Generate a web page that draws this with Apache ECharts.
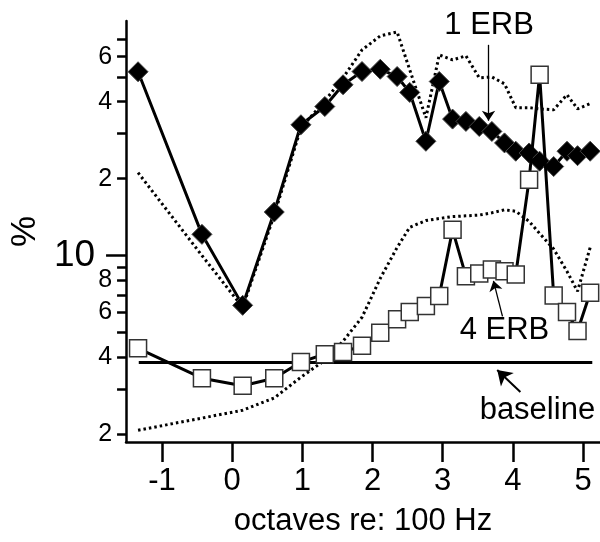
<!DOCTYPE html>
<html>
<head>
<meta charset="utf-8">
<script src="https://cdn.jsdelivr.net/npm/echarts@6/dist/echarts.min.js"></script>
<style>
  html, body { margin: 0; padding: 0; background: #fff; }
  #chart { width: 600px; height: 542px; }
</style>
</head>
<body>
<div id="chart"></div>
<script>
// octave positions shared by every series (octaves re: 100 Hz)
const octaves = [-1.34, -0.43, 0.15, 0.60, 0.98, 1.32, 1.58, 1.85, 2.11, 2.35, 2.53, 2.76,
  2.95, 3.14, 3.33, 3.52, 3.70, 3.88, 4.04, 4.23, 4.38, 4.58, 4.77, 4.92, 5.10];

const erb1 = [52.4, 12.1, 6.38, 14.8, 32.5, 38.3, 46.6, 52.5, 53.6, 50.2, 43.5, 28.0,
  48.0, 34.2, 33.5, 32.0, 30.6, 27.6, 25.6, 25.2, 23.4, 22.3, 25.6, 24.6, 25.6];
const erb4 = [4.33, 3.31, 3.09, 3.31, 3.83, 4.11, 4.19, 4.43, 4.99, 5.63, 6.01, 6.34,
  6.94, 12.6, 8.30, 8.51, 8.82, 8.68, 8.43, 19.8, 51.0, 6.98, 6.01, 5.06, 7.15];
const upperDotted = [21.1, 10.0, 6.27, 14.4, 31.6, 40.3, 49.6, 63.8, 72.4, 75.0, 53.3, 34.6,
  61.0, 58.3, 60.5, 49.6, 50.0, 47.0, 37.9, 37.9, 37.5, 37.2, 42.6, 37.5, 39.3];
const lowerDotted = [2.07, 2.31, 2.48, 2.77, 3.34, 3.89, 4.62, 5.73, 8.14, 10.75, 12.9, 13.7,
  13.96, 14.2, 14.3, 14.4, 14.7, 15.1, 14.9, 13.6, 12.2, 10.6, 8.67, 7.24, 10.75];
const baseline = [[-1.33, 3.81], [5.13, 3.81]];

const xTicks = [-1, 0, 1, 2, 3, 4, 5];
const yTicks = [2, 3, 4, 5, 6, 7, 8, 9, 10, 20, 30, 40, 50, 60, 70];
const yLabels = [2, 4, 6, 8, 10, 20, 40, 60];
const X_MIN = -1.511, X_MAX = 5.24;
const Y_MIN = 1.862, Y_MAX = 82.8;

// annotations: [x0, y0, x1, y1] arrows, [text, x, y] notes
const arrows = [[3.652, 66.8, 3.652, 33.7], [3.851, 5.78, 3.722, 7.96], [4.106, 2.92, 3.776, 3.56]];
const notes = [['1 ERB', 3.66, 79.2], ['4 ERB', 3.879, 5.09], ['baseline', 4.348, 2.48]];

const lg = (v) => Math.log10(v);
const pts = (vals) => octaves.map((x, i) => [x, lg(vals[i])]);
const FONT = '"Liberation Sans", Arial, sans-serif';

const chart = echarts.init(document.getElementById('chart'));

const yBase = {
  type: 'value',
  min: lg(Y_MIN),
  max: lg(Y_MAX),
  splitLine: { show: false },
};

chart.setOption({
  animation: false,
  textStyle: { fontFamily: FONT },
  grid: { left: 124, right: 0, top: 21, bottom: 99 },
  xAxis: {
    type: 'value',
    min: X_MIN,
    max: X_MAX,
    name: 'octaves re: 100 Hz',
    nameLocation: 'middle',
    nameGap: 64,
    nameTextStyle: { fontSize: 31, color: '#000', fontFamily: FONT },
    axisLine: { onZero: false, lineStyle: { color: '#000', width: 2.5 } },
    axisTick: { customValues: xTicks, length: 20, lineStyle: { color: '#000', width: 2.5 } },
    axisLabel: { customValues: xTicks, fontSize: 31, color: '#000', margin: 24, fontFamily: FONT },
    splitLine: { show: false },
  },
  yAxis: [
    {
      ...yBase,
      name: '%',
      nameLocation: 'middle',
      nameRotate: 90,
      nameGap: 80,
      nameTextStyle: { fontSize: 35, color: '#000', fontFamily: FONT },
      axisLine: { show: true, onZero: false, lineStyle: { color: '#000', width: 2.5 } },
      axisTick: { show: true, customValues: yTicks.map(lg), length: 9, lineStyle: { color: '#000', width: 2.5 } },
      axisLabel: {
        customValues: yLabels.map(lg),
        fontSize: 25,
        color: '#000',
        margin: 14,
        fontFamily: FONT,
        formatter: (v) => {
          const n = Math.round(Math.pow(10, v));
          if (n === 10) return '{big|10}';
          return String(n >= 20 ? n / 10 : n);
        },
        rich: { big: { fontSize: 37, color: '#000', fontFamily: FONT, padding: [0, 17, 0, 0] } },
      },
    },
    {
      ...yBase,
      position: 'left',
      axisLine: { show: false, onZero: false },
      axisTick: { show: true, customValues: [1], length: 20, lineStyle: { color: '#000', width: 2.5 } },
      axisLabel: { show: false },
    },
  ],
  series: [
    {
      type: 'line', data: pts(upperDotted), symbol: 'none',
      lineStyle: { color: '#000', width: 3, type: [2.5, 3] }, z: 1,
    },
    {
      type: 'line', data: pts(lowerDotted), symbol: 'none',
      lineStyle: { color: '#000', width: 3, type: [2.5, 3] }, z: 1,
    },
    {
      type: 'line', data: baseline.map(([x, v]) => [x, lg(v)]), symbol: 'none',
      lineStyle: { color: '#000', width: 3 }, z: 2,
      markLine: {
        silent: true, animation: false,
        symbol: ['none', 'arrow'],
        label: { show: false },
        data: arrows.map((a, i) => [
          { coord: [a[0], lg(a[1])], symbolSize: i === 2 ? 14 : 10,
            lineStyle: { color: '#000', width: i === 2 ? 2 : 1.3, type: 'solid' } },
          { coord: [a[2], lg(a[3])], symbolSize: i === 2 ? 14 : 10 },
        ]),
      },
      markPoint: {
        silent: true, animation: false,
        symbol: 'circle', symbolSize: 1,
        itemStyle: { color: 'rgba(0,0,0,0)' },
        label: { show: true, position: 'inside', formatter: '{b}', fontSize: 31, color: '#000', fontFamily: FONT },
        data: notes.map(([t, x, v]) => ({ name: t, coord: [x, lg(v)] })),
      },
    },
    {
      type: 'line', data: pts(erb1), symbol: 'diamond', symbolSize: 20,
      lineStyle: { color: '#000', width: 3 },
      itemStyle: { color: '#000', borderColor: '#444', borderWidth: 1 }, z: 3,
    },
    {
      type: 'line', data: pts(erb4), symbol: 'rect', symbolSize: 17,
      lineStyle: { color: '#000', width: 3 },
      itemStyle: { color: '#fff', borderColor: '#333', borderWidth: 1.5 }, z: 4,
    },
  ],
});
</script>
</body>
</html>
